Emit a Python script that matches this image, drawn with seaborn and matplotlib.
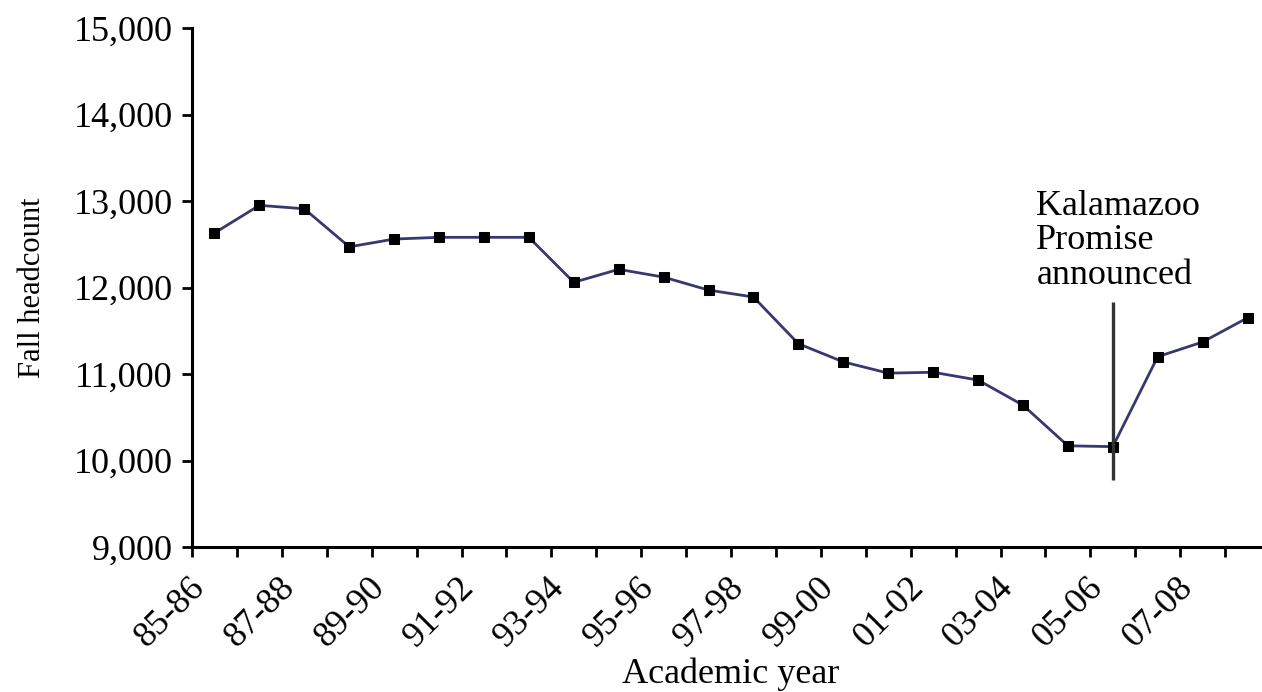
import seaborn as sns
import matplotlib.pyplot as plt
import matplotlib.transforms as mtransforms
import pandas as pd

# Data
years = ['85-86', '86-87', '87-88', '88-89', '89-90', '90-91', '91-92', '92-93',
         '93-94', '94-95', '95-96', '96-97', '97-98', '98-99', '99-00', '00-01',
         '01-02', '02-03', '03-04', '04-05', '05-06', '06-07', '07-08', '08-09']
headcount = [12630, 12950, 12910, 12470, 12560, 12580, 12580, 12580,
             12060, 12210, 12120, 11970, 11890, 11350, 11140, 11010,
             11020, 10930, 10640, 10170, 10160, 11200, 11370, 11650]
year_labels = ['85-86', '87-88', '89-90', '91-92', '93-94', '95-96',
               '97-98', '99-00', '01-02', '03-04', '05-06', '07-08']
y_ticks = [9000, 10000, 11000, 12000, 13000, 14000, 15000]

event_year = '05-06'
event_span = (9770, 11830)
event_text = 'Kalamazoo\nPromise\nannounced'
event_text_pos = (18.3, 13130)

df = pd.DataFrame({'year': years, 'headcount': headcount})

sns.set_style('ticks')
plt.rcParams['font.family'] = ['Liberation Serif', 'DejaVu Serif']
for k in ['text.color', 'axes.labelcolor', 'xtick.color', 'ytick.color']:
    plt.rcParams[k] = 'black'

fig = plt.figure(figsize=(12.62, 6.92), dpi=100)
ax = fig.add_axes([192 / 1262, 145 / 692, 1078 / 1262, 519 / 692])

sns.lineplot(data=df, x='year', y='headcount', ax=ax, color='#383870',
             linewidth=2.0, marker='s', markersize=7.5, markerfacecolor='black',
             markeredgecolor='black', sort=False)

# Vertical line marking the announcement
ex = years.index(event_year)
ax.vlines(ex, event_span[0], event_span[1], color='#333333', linewidth=2.4)
ax.text(event_text_pos[0], event_text_pos[1], event_text, fontsize=26,
        va='top', ha='left', linespacing=1.06)

# Axes
ax.set_xlim(-0.5, len(years) - 0.5)
ax.set_ylim(9000, 15000)
ax.set_yticks(y_ticks)
ax.set_yticklabels([f'{v:,}' for v in y_ticks], fontsize=26)

ax.set_xticks([i - 0.5 for i in range(len(years) + 1)])
ax.set_xticklabels([])
ax.set_xticks([years.index(l) for l in year_labels], minor=True)
ax.set_xticklabels(year_labels, minor=True, fontsize=26)
ax.tick_params(axis='x', which='minor', length=0, pad=17)
ax.tick_params(axis='both', which='major', length=7, width=2, direction='out')
ax.tick_params(axis='y', pad=7)
offset = mtransforms.ScaledTranslation(-26 / 100, 0, fig.dpi_scale_trans)
for lab in ax.get_xticklabels(minor=True):
    lab.set_rotation(45)
    lab.set_ha('right')
    lab.set_rotation_mode('anchor')
    lab.set_transform(lab.get_transform() + offset)

for side in ['top', 'right']:
    ax.spines[side].set_visible(False)
for side in ['left', 'bottom']:
    ax.spines[side].set_linewidth(2.2)
    ax.spines[side].set_color('black')

ax.set_xlabel('Academic year', fontsize=26, va='center')
ax.set_ylabel('Fall headcount', fontsize=22, va='center')
ax.xaxis.set_label_coords(0.5, -0.245)
ax.yaxis.set_label_coords(-0.148, 0.5)

fig.savefig('out.png', dpi=100)
